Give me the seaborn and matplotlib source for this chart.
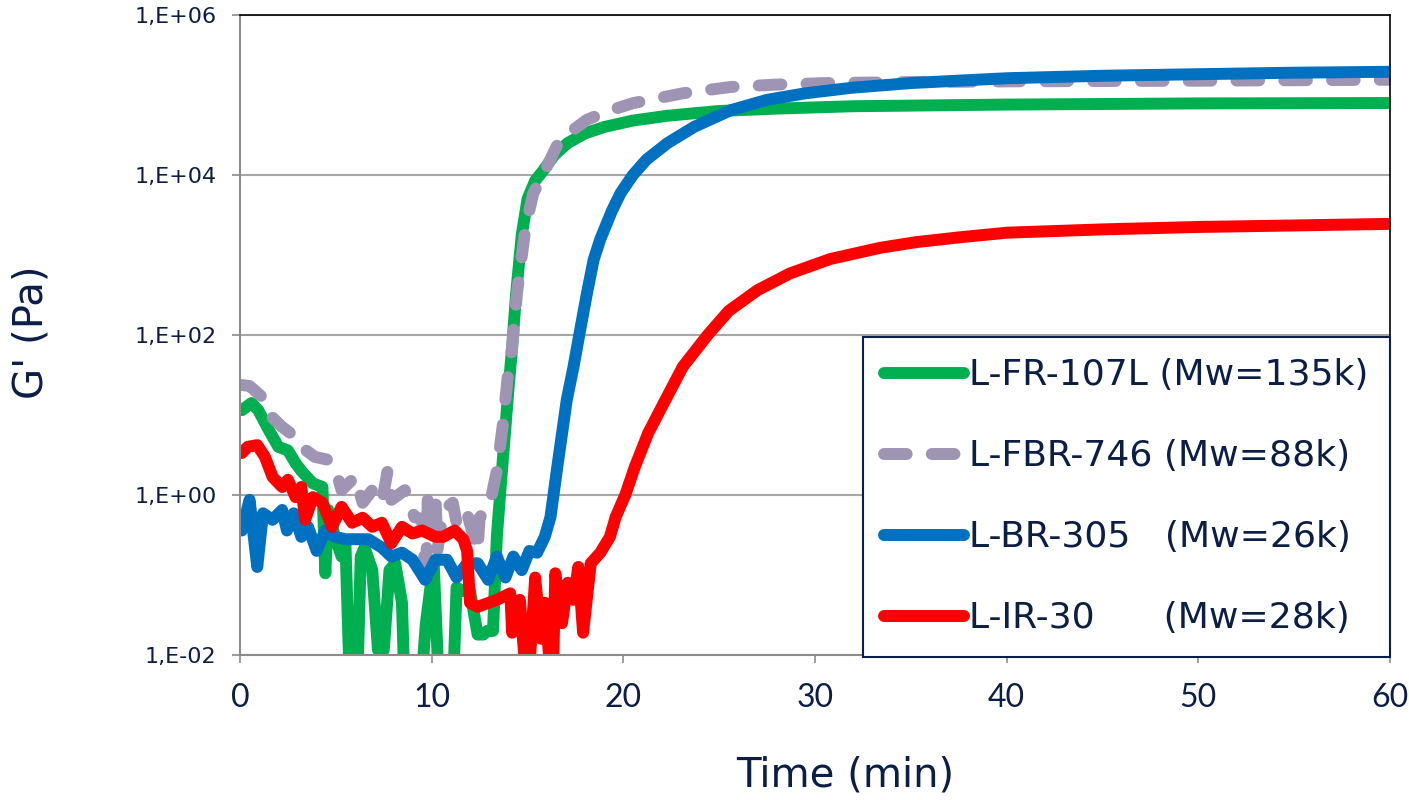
import numpy as np
import pandas as pd
import matplotlib
matplotlib.use("Agg")
import matplotlib.pyplot as plt
import seaborn as sns
from matplotlib.ticker import FixedLocator, FuncFormatter, NullLocator

# ---------------- data ----------------
series_names = ["L-FR-107L (Mw=135k)", "L-FBR-746 (Mw=88k)",
                "L-BR-305   (Mw=26k)", "L-IR-30      (Mw=28k)"]
series_colors = ["#00B050", "#A094B4", "#0070C0", "#FF0000"]

# L-FR-107L
t_fr = [0.1, 0.6, 0.95, 1.5, 2.0, 2.5, 2.9, 3.2, 3.8, 4.3, 4.45, 4.6, 4.95, 5.3, 5.5,
        5.75, 6.1, 6.3, 6.5, 6.9, 7.2, 7.5, 7.8, 8.1, 8.45, 8.6, 9.1, 9.4, 9.7, 10.0,
        10.1, 10.4, 10.8, 11.1, 11.3, 11.6, 12.0, 12.4, 12.7, 12.9, 13.2,
        13.4, 13.6, 13.8, 14.0, 14.2, 14.4, 14.7, 15.0, 15.4, 15.8, 16.4, 17.1, 18.0,
        19.0, 20.5, 22.3, 25.0, 28.0, 32.0, 40.0, 50.0, 60.0]
g_fr = [11.5, 14.1, 11.5, 6.5, 4.0, 3.6, 2.5, 2.0, 1.4, 1.26, 0.105, 0.65, 0.30, 0.17, 0.25,
        0.003, 0.003, 0.17, 0.22, 0.115, 0.0115, 0.0115, 0.115, 0.14, 0.045, 0.003, 0.003,
        0.003, 0.025, 0.093, 0.15, 0.003, 0.003, 0.003, 0.07, 0.063, 0.063, 0.018, 0.018,
        0.02, 0.02,
        0.30, 1.26, 5.0, 20, 71, 316, 1780, 5000, 8500, 11200, 17800, 25100, 33100,
        39800, 47900, 55000, 63100, 67600, 72400, 75900, 78500, 79400]

# L-FBR-746
t_fbr = [0.1, 0.5, 0.8, 1.15, 1.67, 2.2, 2.9, 3.2, 3.9, 4.6, 5.1, 5.3, 6.0, 6.4, 6.9, 7.4,
         7.7, 7.9, 8.6, 9.1, 9.5, 9.7, 9.8, 10.2, 10.3, 10.6, 11.1, 11.3, 11.8, 12.4, 12.5,
         13.05, 13.4, 13.7, 14.0, 14.2, 14.45, 14.9, 15.3, 15.8, 16.6, 17.3, 18.1, 19.2,
         20.5, 23.1, 25.6, 28.0, 30.6, 35.0, 40.0, 50.0, 60.0]
g_fbr = [23.7, 23.0, 20.0, 16.8, 9.4, 7.1, 5.3, 4.0, 3.0, 2.75, 1.68, 1.15, 1.68, 0.8, 1.15,
         0.8, 2.0, 0.87, 1.15, 0.53, 0.5, 0.07, 1.07, 1.0, 0.2, 0.65, 0.8, 0.45, 0.65, 0.2,
         0.52, 0.8, 2.0, 7.1, 36, 71, 330, 2240, 5900, 1.0e4, 2.5e4, 3.55e4, 4.9e4, 6.3e4,
         7.9e4, 1.05e5, 1.26e5, 1.35e5, 1.41e5, 1.45e5, 1.48e5, 1.51e5, 1.55e5]

# L-BR-305
t_br = [0.1, 0.5, 0.9, 1.2, 1.7, 2.2, 2.45, 2.8, 3.2, 3.55, 4.0, 4.45, 4.95, 5.5, 6.2, 6.7,
        7.4, 7.9, 8.45, 9.0, 9.66, 10.2, 10.8, 11.3, 11.85, 12.4, 12.95, 13.4, 13.85, 14.26,
        14.7, 15.1, 15.5, 15.9, 16.2, 16.55, 17.05, 17.4, 17.7, 18.1, 18.45, 18.8, 19.06,
        19.4, 19.85, 20.5, 21.2, 22.3, 23.7, 25.6, 27.5, 29.5, 31.9, 35.0, 40.0, 45.0,
        50.0, 55.0, 60.0]
g_br = [0.36, 0.87, 0.126, 0.59, 0.49, 0.65, 0.36, 0.59, 0.30, 0.40, 0.20, 0.36, 0.30, 0.28,
        0.28, 0.28, 0.22, 0.17, 0.19, 0.155, 0.087, 0.155, 0.155, 0.093, 0.14, 0.14, 0.087,
        0.17, 0.093, 0.17, 0.115, 0.20, 0.19, 0.30, 0.53, 2.2, 15.5, 40, 100, 330, 870,
        1580, 2240, 3550, 5900, 1.0e4, 1.55e4, 2.5e4, 4.0e4, 6.45e4, 8.7e4, 1.05e5,
        1.23e5, 1.41e5, 1.62e5, 1.74e5, 1.82e5, 1.9e5, 1.95e5]

# L-IR-30
t_ir = [0.1, 0.4, 0.9, 1.3, 1.7, 2.2, 2.5, 2.9, 3.2, 3.4, 3.8, 4.3, 4.8, 5.3, 5.85, 6.4,
        6.9, 7.4, 7.9, 8.45, 9.0, 9.5, 10.2, 10.6, 11.2, 11.65, 11.85, 12.0, 12.4, 13.4,
        14.1, 14.2, 14.6, 15.0, 15.4, 15.7, 15.9, 16.3, 16.45, 16.8, 17.1, 17.4, 17.65,
        17.9, 18.3, 18.8, 19.3, 19.6, 20.1, 20.6, 21.3, 22.2, 23.1, 24.4, 25.5, 27.0,
        28.7, 30.8, 33.4, 35.3, 37.5, 40.0, 45.0, 50.0, 55.0, 60.0]
g_ir = [3.35, 4.0, 4.2, 3.0, 1.68, 1.26, 1.55, 0.94, 1.26, 0.49, 0.94, 0.8, 0.4, 0.71, 0.45,
        0.52, 0.4, 0.45, 0.25, 0.4, 0.33, 0.36, 0.30, 0.30, 0.36, 0.28, 0.20, 0.045, 0.04,
        0.049, 0.059, 0.019, 0.049, 0.003, 0.093, 0.016, 0.045, 0.003, 0.105, 0.025, 0.08,
        0.049, 0.126, 0.019, 0.14, 0.19, 0.30, 0.53, 1.0, 2.24, 5.96, 15.5, 40, 100, 200,
        363, 589, 891, 1230, 1450, 1660, 1900, 2090, 2240, 2340, 2450]

y_ticks = [1e-2, 1e0, 1e2, 1e4, 1e6]
x_ticks = [0, 10, 20, 30, 40, 50, 60]

# ---------------- plotting ----------------
sns.set_theme(style="white")
plt.rcParams['font.family'] = ['DejaVu Sans']
navy = "#0B1E45"

fig = plt.figure(figsize=(14.09, 8.0), dpi=100)
ax = fig.add_axes([240 / 1409, 1 - 655 / 800, 1150 / 1409, 640 / 800])

all_t = [t_fr, t_fbr, t_br, t_ir]
all_g = [g_fr, g_fbr, g_br, g_ir]
lw = 8.6
for name, col, tt, gg in zip(series_names, series_colors, all_t, all_g):
    df = pd.DataFrame({"Time": tt, "G": gg})
    sns.lineplot(data=df, x="Time", y="G", ax=ax, color=col, linewidth=lw, label=name,
                 estimator=None, sort=False,
                 solid_capstyle="round", solid_joinstyle="round",
                 dash_capstyle="round", dash_joinstyle="round")
ax.lines[1].set_dashes([1.9, 2.1])

ax.set_yscale("log")
ax.set_xlim(0, 60)
ax.set_ylim(1e-2, 1e6)
ax.yaxis.set_major_locator(FixedLocator(y_ticks))
ax.yaxis.set_minor_locator(NullLocator())
ax.xaxis.set_major_locator(FixedLocator(x_ticks))
ax.yaxis.set_major_formatter(FuncFormatter(lambda v, p: "1,E{:+03d}".format(int(round(np.log10(v))))))
ax.xaxis.set_major_formatter(FuncFormatter(lambda v, p: "{:d}".format(int(v))))

ax.grid(True, axis="y", color="#A6A6A6", linewidth=1.5)
ax.grid(False, axis="x")
ax.set_axisbelow(True)

for s in ["left", "bottom"]:
    ax.spines[s].set_color("#8C8C8C")
    ax.spines[s].set_linewidth(1.5)
for s in ["top", "right"]:
    ax.spines[s].set_color("#000000")
    ax.spines[s].set_linewidth(1.2)
    ax.spines[s].set_visible(True)

ax.tick_params(axis="x", which="major", direction="out", length=6, width=1.2,
               color="#8C8C8C", labelsize=23, labelcolor=navy, pad=14, bottom=True)
ax.tick_params(axis="y", which="major", direction="out", length=6, width=1.2,
               color="#8C8C8C", labelsize=16, labelcolor=navy, pad=11, left=True)
for lab in ax.get_xticklabels():
    lab.set_fontfamily(["Lato", "DejaVu Sans"])

ax.set_xlabel("Time (min)", fontsize=29, color=navy, va="center")
ax.xaxis.set_label_coords(0.526, (655 - 775) / 640)
ax.set_ylabel("G' (Pa)", fontsize=29, color=navy, va="center")
ax.yaxis.set_label_coords((32 - 240) / 1150, (655 - 332) / 640)

leg = ax.legend(loc="lower right", bbox_to_anchor=(1.0, -0.003), borderaxespad=0,
                fontsize=26, frameon=True, fancybox=False, handlelength=2.2,
                handletextpad=0.14, labelspacing=1.3, borderpad=0.6,
                edgecolor=navy, facecolor="white", framealpha=1.0)
leg.get_frame().set_linewidth(1.5)
for txt in leg.get_texts():
    txt.set_color(navy)

fig.savefig("out.png", dpi=100, facecolor="white")
